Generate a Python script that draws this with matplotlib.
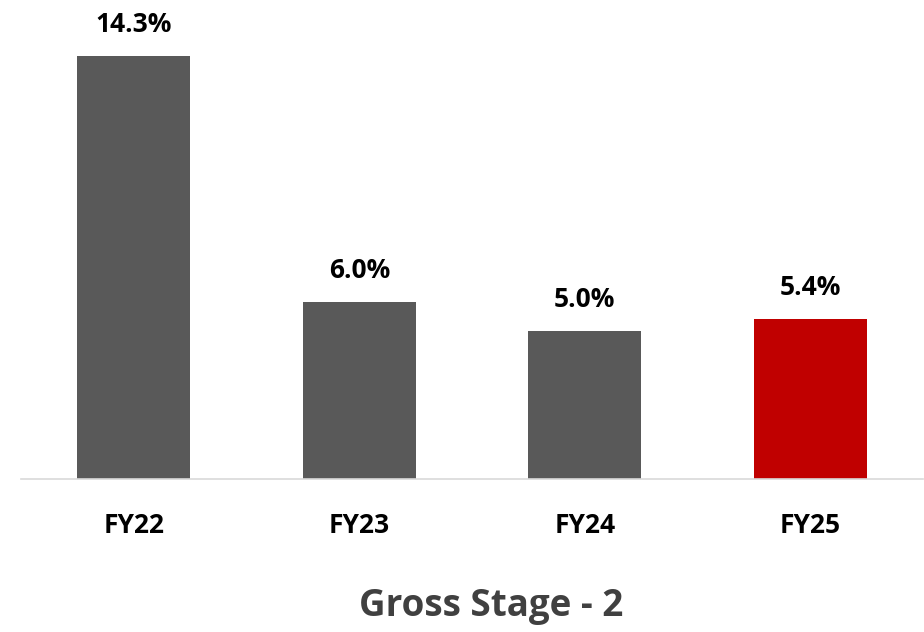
import matplotlib.pyplot as plt

# data
years = ['FY22', 'FY23', 'FY24', 'FY25']
gross_stage2 = [14.3, 6.0, 5.0, 5.4]
bar_colors = ['#595959', '#595959', '#595959', '#C00000']

W, H = 924, 632
fig = plt.figure(figsize=(W / 100, H / 100), dpi=100)
# axes placed in pixel coords: x 21..923, baseline at y=479
ax = fig.add_axes([21 / W, (H - 479) / H, 902 / W, 479 / H])

x = range(len(years))
ax.bar(x, gross_stage2, width=0.5, color=bar_colors, zorder=2)
ax.set_xlim(-0.5, 3.5)
ax.set_ylim(0, 479 / 29.56)

for xi, v in zip(x, gross_stage2):
    ax.annotate(f'{v:.1f}%', (xi, v), xytext=(0, 13), textcoords='offset points',
                ha='center', va='bottom', fontsize=19, fontweight='bold',
                family='Open Sans', color='#000000')

for s in ['top', 'right', 'left']:
    ax.spines[s].set_visible(False)
ax.spines['bottom'].set_color('#D9D9D9')
ax.spines['bottom'].set_linewidth(1.2)
ax.set_yticks([])
ax.set_xticks(list(x))
ax.set_xticklabels(years, fontsize=19, fontweight='bold', family='Open Sans', color='#000000')
ax.tick_params(axis='x', length=0, pad=24)

fig.text(491 / W, 1 - 606 / H, 'Gross Stage - 2', ha='center', va='center',
         fontsize=26.5, fontweight='bold', family='Open Sans', color='#404040')

fig.savefig('out.png', dpi=100)
